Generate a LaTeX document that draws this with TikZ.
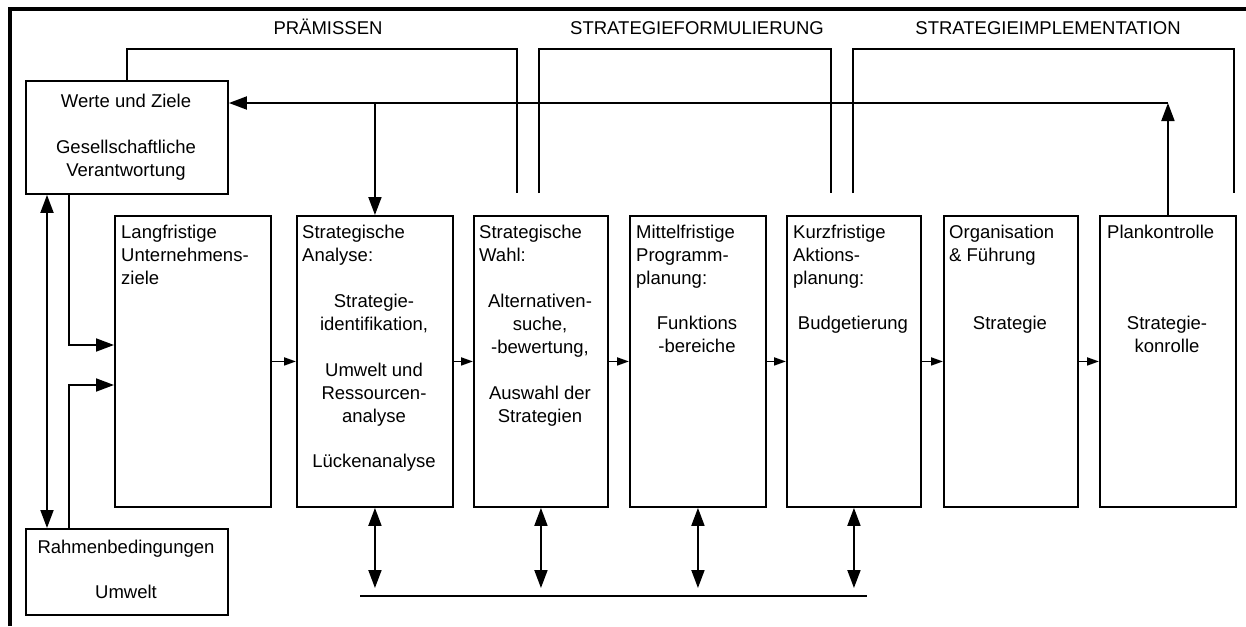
\documentclass[tikz,border=0pt]{standalone}
\usepackage{fontspec}
\setmainfont{Liberation Sans}
\usetikzlibrary{arrows.meta}
\begin{document}
\begin{tikzpicture}[x=1pt,y=-1pt,
  every node/.style={font=\fontsize{18.5}{23}\selectfont, inner sep=0pt},
  conn/.style={line width=1.9pt},
  box/.style={draw, line width=1.9pt, anchor=north west},
  stage/.style={box, minimum width=134pt, minimum height=291pt},
  head/.style={anchor=base west, align=left},
  body/.style={anchor=base, align=center},
  big/.style={conn, -{Triangle[length=18pt,width=13pt]}},
  small/.style={conn, -{Triangle[length=12pt,width=8pt]}},
  both/.style={conn, {Triangle[length=18pt,width=13pt]}-{Triangle[length=18pt,width=13pt]}},
  phase/.style={anchor=base}]
\useasboundingbox (0,0) rectangle (1246,626);

% frame
\draw[line width=3.5pt] (10,626) -- (10,9) -- (1246,9);

% side boxes (text nodes are placed at the baseline of their last line)
\node[box, minimum width=202pt, minimum height=113pt] (werte) at (25,80) {};
\node[body] (wertetext) at (126,176) {Werte und Ziele\\[23pt]Gesellschaftliche\\Verantwortung};
\node[box, minimum width=202pt, minimum height=86pt] (rahmen) at (25,528) {};
\node[body] (rahmentext) at (126,598) {Rahmenbedingungen\\[22pt]Umwelt};

% planning stages
\node[stage, minimum width=156pt] (b1) at (114,215) {};
\node[stage, minimum width=156pt] (b2) at (296,215) {};
\node[stage] (b3) at (473,215) {};
\node[stage, minimum width=136pt] (b4) at (629,215) {};
\node[stage] (b5) at (786,215) {};
\node[stage] (b6) at (943,215) {};
\node[stage, minimum width=136pt] (b7) at (1099,215) {};

\node[head] (h1) at (121,284) {Langfristige\\Unternehmens-\\ziele};
\node[head] (h2) at (302,261) {Strategische\\Analyse:};
\node[body] (t2) at (374,467) {Strategie-\\identifikation,\\[23pt]Umwelt und\\Ressourcen-\\analyse\\[22pt]Lückenanalyse};
\node[head] (h3) at (479,261) {Strategische\\Wahl:};
\node[body] (t3) at (540,422) {Alternativen-\\suche,\\-bewertung,\\[23pt]Auswahl der\\Strategien};
\node[head] (h4) at (636,284) {Mittelfristige\\Programm-\\planung:};
\node[body] (t4) at (697,352) {Funktions\\-bereiche};
\node[head] (h5) at (793,284) {Kurzfristige\\Aktions-\\planung:};
\node[body] (t5) at (853,329) {Budgetierung};
\node[head] (h6) at (949,261) {Organisation\\\& Führung};
\node[body] (t6) at (1010,329) {Strategie};
\node[head] (h7) at (1107,238) {Plankontrolle};
\node[body] (t7) at (1167,352) {Strategie-\\konrolle};

% flow between stages
\foreach \a/\b in {b1/b2,b2/b3,b3/b4,b4/b5,b5/b6,b6/b7}
  \draw[small] (\a.east) -- (\b.west);

% phase brackets
\coordinate (top) at (0,49);
\coordinate (p1) at (517,193);
\coordinate (f0) at (539,193);
\coordinate (f1) at (831,193);
\coordinate (i0) at (853,193);
\coordinate (i1) at (1234,193);
\draw[conn] (werte.north) -- (werte.north |- top) -- (p1 |- top) -- (p1);
\draw[conn] (f0) -- (f0 |- top) -- (f1 |- top) -- (f1);
\draw[conn] (i0) -- (i0 |- top) -- (i1 |- top) -- (i1);
\node[phase] (ph1) at (328,35) {PRÄMISSEN};
\node[phase] (ph2) at (697,35) {STRATEGIEFORMULIERUNG};
\node[phase] (ph3) at (1048,35) {STRATEGIEIMPLEMENTATION};

% feedback loop
\coordinate (fb) at (b7.north |- 0,103);
\draw[big] (b7.north) -- (fb);
\draw[big] (fb) -- (werte.east |- fb);
\draw[big] (b2.north |- fb) -- (b2.north);

% left side links
\coordinate (lx) at (47,0);
\coordinate (ly) at (69,0);
\coordinate (in1) at (0,345);
\coordinate (in2) at (0,385);
\draw[both] (werte.south -| lx) -- (rahmen.north -| lx);
\draw[big] (werte.south -| ly) -- (ly |- in1) -- (b1.west |- in1);
\draw[big] (rahmen.north -| ly) -- (ly |- in2) -- (b1.west |- in2);

% common base line
\coordinate (bus0) at (360,596);
\coordinate (bus1) at (867,596);
\coordinate (tip) at (0,588);
\draw[conn] (bus0) -- (bus1);
\foreach \s in {b2,b3,b4,b5}
  \draw[both] (\s.south) -- (\s.south |- tip);
\end{tikzpicture}
\end{document}
